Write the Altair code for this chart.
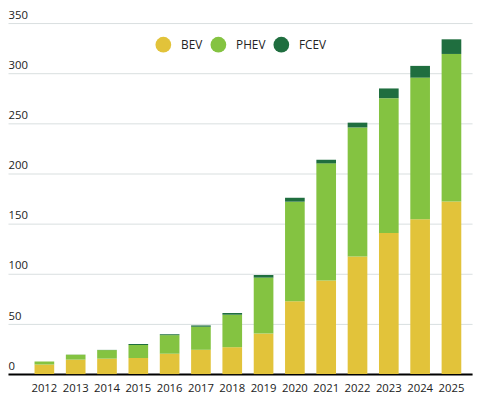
import altair as alt
import pandas as pd

years = [str(y) for y in range(2012, 2026)]
bev = [9.5, 14.4, 15.4, 16.1, 20.3, 24.2, 26.8, 40.4, 72.5, 93.3, 117.3, 140.7, 154.3, 172.2]
phev = [3.0, 4.9, 8.5, 12.9, 18.5, 23.0, 32.4, 55.8, 99.4, 116.8, 128.6, 134.4, 141.3, 147.0]
fcev = [0.1, 0.1, 0.2, 1.0, 0.9, 1.3, 1.7, 2.6, 3.9, 3.6, 4.8, 9.7, 11.7, 14.6]
types = ["BEV", "PHEV", "FCEV"]
colors = ["#E2C33A", "#84C341", "#1F6E3F"]
y_ticks = [0, 50, 100, 150, 200, 250, 300, 350]

rows = []
for i, yr in enumerate(years):
    for k, (t, vals) in enumerate(zip(types, [bev, phev, fcev])):
        rows.append({"year": yr, "type": t, "value": vals[i], "k": k})
df = pd.DataFrame(rows)

FONT = "Open Sans"

chart = alt.Chart(df).mark_bar().encode(
    x=alt.X("year:N", title=None,
            scale=alt.Scale(paddingInner=0.372, paddingOuter=0.596, align=0.711),
            axis=alt.Axis(labelAngle=0, ticks=False, domain=True, domainColor="#000000",
                          domainWidth=2, labelFont=FONT, labelFontSize=11.5,
                          labelColor="#222222", labelPadding=9, grid=False)),
    y=alt.Y("value:Q", title=None, stack="zero",
            scale=alt.Scale(domain=[0, 350], nice=False),
            axis=alt.Axis(values=y_ticks, ticks=False, domain=False, tickSize=0,
                          labelAlign="left", labelBaseline="bottom", labelPadding=0,
                          labelOffset=-3, labelFont=FONT, labelFontSize=11.5,
                          labelColor="#222222", grid=True, gridColor="#D8DEDF",
                          gridWidth=1)),
    color=alt.Color("type:N", scale=alt.Scale(domain=types, range=colors),
                    legend=alt.Legend(orient="none", legendX=150, legendY=14,
                                      direction="horizontal", title=None,
                                      symbolType="circle", symbolSize=256,
                                      symbolStrokeWidth=0, labelFont=FONT,
                                      labelFontSize=12, labelColor="#222222",
                                      labelOffset=10, columnPadding=8)),
    order=alt.Order("k:Q", sort="ascending"),
).properties(
    width=472, height=357, autosize="none",
    padding={"left": 0, "top": 12, "right": 4, "bottom": 20},
).configure_view(stroke=None)

chart.save("out.html", embed_options={"renderer": "svg", "actions": False})
